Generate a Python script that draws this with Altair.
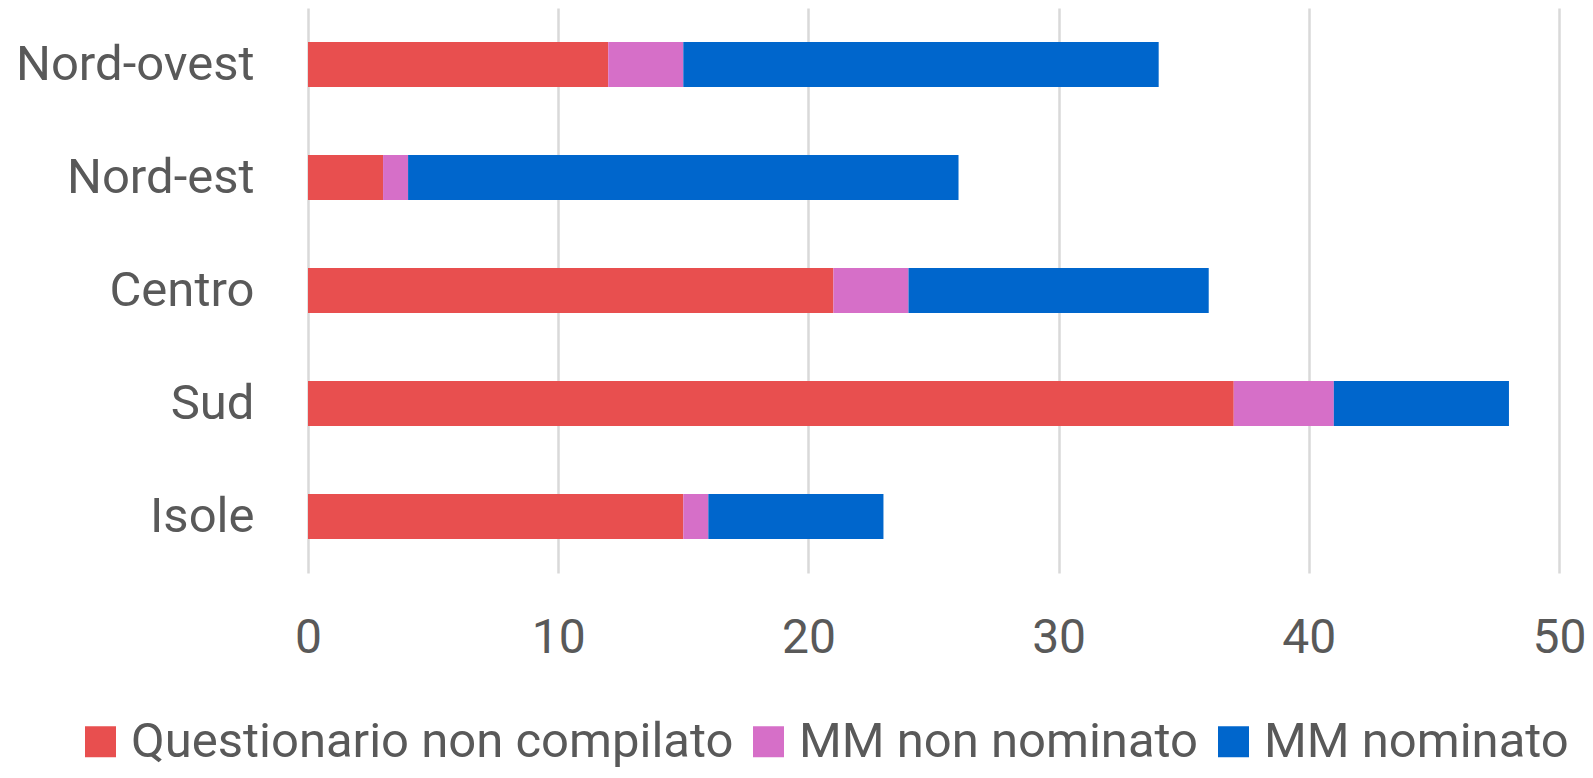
import altair as alt
import pandas as pd

regions = ["Nord-ovest", "Nord-est", "Centro", "Sud", "Isole"]
series = ["Questionario non compilato", "MM non nominato", "MM nominato"]
non_compilato = [12, 3, 21, 37, 15]
non_nominato = [3, 1, 3, 4, 1]
nominato = [19, 22, 12, 7, 7]
colors = ["#E84F4F", "#D66FC8", "#0066CC"]
x_ticks = [0, 10, 20, 30, 40, 50]

rows = []
for vals, (k, s) in zip([non_compilato, non_nominato, nominato], enumerate(series)):
    for r, v in zip(regions, vals):
        rows.append({"Regione": r, "Serie": s, "Valore": v, "ord": k})
df = pd.DataFrame(rows)

FONT = "Roboto"
TXT = "#595959"
FS = 49

chart = alt.Chart(df).mark_bar().encode(
    y=alt.Y("Regione:N", sort=regions,
            scale=alt.Scale(paddingInner=0.6, paddingOuter=0.3),
            axis=alt.Axis(title=None, domain=False, ticks=False, grid=False,
                          labelFontSize=FS, labelColor=TXT, labelFont=FONT,
                          labelPadding=54, labelLimit=0)),
    x=alt.X("Valore:Q", stack="zero",
            scale=alt.Scale(domain=[0, 50], nice=False),
            axis=alt.Axis(title=None, domain=False, ticks=False, values=x_ticks,
                          grid=True, gridColor="#D9D9D9", gridWidth=2.5,
                          labelFontSize=48, labelColor=TXT, labelFont=FONT,
                          labelPadding=41, labelFlush=False)),
    color=alt.Color("Serie:N", sort=series,
                    scale=alt.Scale(domain=series, range=colors),
                    legend=alt.Legend(title=None, orient="none", direction="horizontal",
                                      legendX=-232, legendY=709,
                                      symbolType="square", symbolSize=961,
                                      symbolStrokeWidth=0, symbolOpacity=1,
                                      labelFontSize=FS, labelColor=TXT, labelFont=FONT,
                                      labelOffset=6, columnPadding=10, labelLimit=0)),
    order=alt.Order("ord:Q"),
).properties(
    width=1251, height=565,
    autosize=alt.AutoSizeParams(type="none"),
    padding={"left": 300, "top": 0, "right": 26, "bottom": 197},
).configure_view(stroke=None)

chart.save("out.html", embed_options={"renderer": "svg", "actions": False})
